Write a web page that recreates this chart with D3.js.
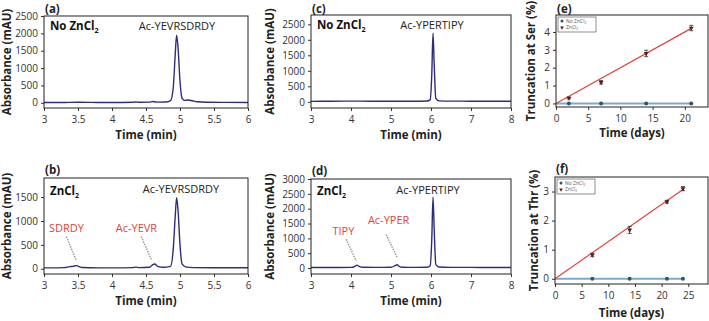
<!DOCTYPE html>
<html lang="en">
<head>
<meta charset="UTF-8">
<title>ZnCl2 truncation chromatograms</title>
<script src="https://d3js.org/d3.v7.min.js"></script>
<style>
  body { margin: 0; background: #fff; }
  svg text { font-family: "Open Sans", "Noto Sans", sans-serif; }
</style>
</head>
<body>
<div id="chart"></div>
<script>
// ---- chromatogram traces: time (min) / absorbance (mAU) ----
var timeA = [3.0, 3.3, 3.5, 3.8, 4.0, 4.3, 4.35, 4.4, 4.55, 4.6, 4.65, 4.8, 4.86, 4.9, 4.93, 4.95, 4.97, 5.0, 5.03, 5.07, 5.12, 5.18, 5.25, 5.4, 5.7, 6.0];
var absA  = [8, 10, 14, 10, 8, 14, 24, 14, 18, 38, 20, 22, 60, 420, 1400, 1950, 1620, 620, 130, 70, 80, 60, 28, 15, 12, 10];

var timeB = [3.0, 3.3, 3.38, 3.43, 3.47, 3.5, 3.56, 3.8, 4.0, 4.3, 4.35, 4.4, 4.55, 4.6, 4.63, 4.67, 4.75, 4.86, 4.9, 4.93, 4.95, 4.97, 5.0, 5.03, 5.08, 5.2, 5.5, 6.0];
var absB  = [18, 24, 45, 50, 65, 55, 25, 18, 18, 24, 34, 24, 30, 88, 100, 50, 30, 50, 400, 1100, 1485, 1250, 500, 100, 40, 24, 20, 20];

var timeC = [3.0, 3.5, 4.0, 4.5, 5.0, 5.5, 5.9, 5.98, 6.02, 6.05, 6.08, 6.12, 6.2, 6.5, 7.0, 7.5, 8.0];
var absC  = [15, 18, 22, 20, 20, 18, 24, 70, 900, 2210, 1200, 110, 30, 22, 20, 20, 20];

var timeD = [3.0, 3.5, 4.0, 4.1, 4.15, 4.2, 4.3, 4.6, 5.0, 5.1, 5.15, 5.2, 5.3, 5.6, 5.9, 5.98, 6.02, 6.05, 6.08, 6.12, 6.2, 6.5, 7.0, 7.5, 8.0];
var absD  = [18, 20, 22, 60, 100, 60, 25, 22, 28, 80, 110, 60, 28, 22, 26, 80, 1000, 2390, 1300, 120, 35, 24, 22, 20, 20];

// ---- truncation time courses ----
var daysE   = [2, 7, 14, 21];
var noZnE   = [0, 0, 0, 0];
var znE     = [0.3, 1.18, 2.8, 4.22];
var errE    = [0.05, 0.1, 0.18, 0.15];
var fitDaysE = [0, 21];
var fitE     = [0, 4.2];

var daysF   = [7, 14, 21, 24];
var noZnF   = [0, 0, 0, 0];
var znF     = [0.82, 1.68, 2.65, 3.1];
var errF    = [0.06, 0.12, 0.05, 0.07];
var fitDaysF = [0, 24];
var fitF     = [0, 3.07];

// tick labels
var ticksMinAB = [3, 3.5, 4, 4.5, 5, 5.5, 6];
var ticksMinCD = [3, 4, 5, 6, 7, 8];
var ticksAbsA = [0, 500, 1000, 1500, 2000, 2500];
var ticksAbsB = [0, 500, 1000, 1500];
var ticksAbsC = [0, 500, 1000, 1500, 2000, 2500];
var ticksAbsD = [0, 500, 1000, 1500, 2000, 2500, 3000];
var ticksDaysE = [0, 5, 10, 15, 20];
var ticksDaysF = [0, 5, 10, 15, 20, 25];
var ticksPctE = [0, 1, 2, 3, 4];
var ticksPctF = [0, 1, 2, 3];

var W = 709, H = 321;
var svg = d3.select("#chart").append("svg").attr("width", W).attr("height", H);

var traceColor = "#2f2c7c";
var red = "#e3443a";

// text with a subscript 2 (ZnCl2)
function zncl(sel, prefix, size) {
  sel.append("tspan").text(prefix + "ZnCl");
  sel.append("tspan").attr("font-size", size * 0.62).attr("dy", size * 0.22).text("2");
}

function axes(p, x, y, xlab, ylab) {
  var gx = svg.append("g").attr("transform", "translate(0," + (p.y + p.h) + ")")
    .call(d3.axisBottom(x).tickValues(p.xt).tickSize(3).tickPadding(3).tickFormat(d3.format("")));
  var gy = svg.append("g").attr("transform", "translate(" + p.x + ",0)")
    .call(d3.axisLeft(y).tickValues(p.yt).tickSize(3).tickPadding(3).tickFormat(d3.format("")));
  [gx, gy].forEach(function(g) {
    g.select(".domain").remove();
    g.selectAll("text").attr("font-size", 10).attr("fill", "#333")
      .attr("font-family", "'Open Sans', sans-serif");
    g.selectAll("line").attr("stroke", "#333");
  });
  gx.selectAll("text").attr("dy", "0.85em").attr("y", 6);
  svg.append("text").attr("x", p.x + p.w / 2).attr("y", p.y + p.h + (p.xlabOff || 31))
    .attr("text-anchor", "middle").attr("font-size", 11.5).attr("font-weight", "bold")
    .attr("fill", "#222").text(xlab);
  svg.append("text").attr("transform", "translate(" + p.ylabX + "," + (p.y + p.h / 2) + ") rotate(-90)")
    .attr("text-anchor", "middle").attr("font-size", 11.5).attr("font-weight", "bold")
    .attr("fill", "#222").text(ylab);
  svg.append("text").attr("x", p.x + 1).attr("y", p.tagY)
    .attr("font-size", 11.5).attr("font-weight", "bold").attr("fill", "#222").text(p.tag);
}

function box(p) {
  svg.append("rect").attr("x", p.x).attr("y", p.y).attr("width", p.w).attr("height", p.h)
    .attr("fill", "none").attr("stroke", "#222").attr("stroke-width", 1);
}

function chrom(p) {
  var x = d3.scaleLinear().domain(p.xd).range([p.x, p.x + p.w]);
  var y = d3.scaleLinear().domain(p.yd).range([p.y + p.h, p.y]);
  axes(p, x, y, "Time (min)", "Absorbance (mAU)");

  var line = d3.line().x(function(d) { return x(d[0]); }).y(function(d) { return y(d[1]); })
    .curve(d3.curveMonotoneX);
  svg.append("path").datum(d3.zip(p.t, p.v)).attr("d", line)
    .attr("fill", "none").attr("stroke", traceColor).attr("stroke-width", 1.4);

  // condition label
  var c = svg.append("text").attr("x", p.x + 6).attr("y", p.y + p.condY)
    .attr("font-size", 11.5).attr("font-weight", "bold").attr("fill", "#111");
  zncl(c, p.noZn ? "No " : "", 11.5);
  // main peak label
  svg.append("text").attr("x", p.peakX).attr("y", p.y + p.peakY).attr("text-anchor", "middle")
    .attr("font-size", 11).attr("fill", "#222").text(p.peak);

  (p.frags || []).forEach(function(f) {
    svg.append("text").attr("x", x(f.tx)).attr("y", y(f.ty)).attr("text-anchor", "middle")
      .attr("font-size", 11).attr("fill", red).text(f.name);
    svg.append("line").attr("x1", x(f.l[0])).attr("y1", y(f.l[1]))
      .attr("x2", x(f.l[2])).attr("y2", y(f.l[3]))
      .attr("stroke", "#8a8a8a").attr("stroke-width", 1.4).attr("stroke-dasharray", "1.3,1.3");
  });
  box(p);
}

function trunc(p) {
  var x = d3.scaleLinear().domain(p.xd).range([p.x, p.x + p.w]);
  var y = d3.scaleLinear().domain(p.yd).range([p.y + p.h, p.y]);
  axes(p, x, y, "Time (days)", p.ylab);

  // no ZnCl2 line
  svg.append("line").attr("x1", x(0)).attr("y1", y(0)).attr("x2", x(p.days[p.days.length - 1])).attr("y2", y(0))
    .attr("stroke", "#7eaacb").attr("stroke-width", 2);
  // ZnCl2 fit
  svg.append("line").attr("x1", x(p.fitX[0])).attr("y1", y(p.fitY[0]))
    .attr("x2", x(p.fitX[1])).attr("y2", y(p.fitY[1]))
    .attr("stroke", red).attr("stroke-width", 1.2);

  var g = svg.append("g");
  g.selectAll(".nz").data(d3.zip(p.days, p.noZn)).join("circle")
    .attr("cx", function(d) { return x(d[0]); }).attr("cy", function(d) { return y(d[1]); })
    .attr("r", 2).attr("fill", "#2e5666");

  var zn = d3.zip(p.days, p.zn, p.err);
  g.selectAll(".eb").data(zn).join("path")
    .attr("d", function(d) {
      var cx = x(d[0]), t = y(d[1] + d[2]), b = y(d[1] - d[2]);
      return "M" + (cx - 2) + "," + t + "H" + (cx + 2) + "M" + cx + "," + t + "V" + b +
        "M" + (cx - 2) + "," + b + "H" + (cx + 2);
    })
    .attr("stroke", "#333").attr("stroke-width", 0.8).attr("fill", "none");
  g.selectAll(".tri").data(zn).join("path")
    .attr("d", d3.symbol().type(d3.symbolTriangle).size(10))
    .attr("transform", function(d) { return "translate(" + x(d[0]) + "," + y(d[1]) + ") rotate(180)"; })
    .attr("fill", "#5a1d1d");

  // legend
  var lx = p.x + 2, ly = p.y + 2;
  svg.append("rect").attr("x", lx).attr("y", ly).attr("width", 38).attr("height", 15)
    .attr("fill", "#fff").attr("stroke", "#444").attr("stroke-width", 0.6);
  svg.append("circle").attr("cx", lx + 4).attr("cy", ly + 4).attr("r", 1.5).attr("fill", "#2e5666");
  svg.append("path").attr("d", d3.symbol().type(d3.symbolTriangle).size(6))
    .attr("transform", "translate(" + (lx + 4) + "," + (ly + 10.5) + ") rotate(180)").attr("fill", "#5a1d1d");
  var t1 = svg.append("text").attr("x", lx + 8).attr("y", ly + 5.8).attr("font-size", 5).attr("fill", "#555");
  zncl(t1, "No ", 5);
  var t2 = svg.append("text").attr("x", lx + 8).attr("y", ly + 12.3).attr("font-size", 5).attr("fill", "#555");
  zncl(t2, "", 5);
  box(p);
}

chrom({ tag: "(a)", tagY: 12.5, x: 44, y: 16, w: 204, h: 92, xd: [3, 6], yd: [-150, 2500],
  xt: ticksMinAB, yt: ticksAbsA, t: timeA, v: absA, ylabX: 11, noZn: true,
  condY: 14, peak: "Ac-YEVRSDRDY", peakX: 177, peakY: 14 });

chrom({ tag: "(b)", tagY: 174, x: 44, y: 178, w: 204, h: 96, xd: [3, 6], yd: [-110, 1900],
  xt: ticksMinAB, yt: ticksAbsB, t: timeB, v: absB, ylabX: 11, noZn: false,
  condY: 17, peak: "Ac-YEVRSDRDY", peakX: 181, peakY: 15,
  frags: [
    { name: "SDRDY", tx: 3.33, ty: 770, l: [3.33, 670, 3.47, 190] },
    { name: "Ac-YEVR", tx: 4.36, ty: 770, l: [4.43, 670, 4.58, 190] }
  ] });

chrom({ tag: "(c)", tagY: 12.5, x: 311, y: 15, w: 200, h: 93, xd: [3, 8], yd: [-200, 2800],
  xt: ticksMinCD, yt: ticksAbsC, t: timeC, v: absC, ylabX: 274, noZn: true,
  condY: 14, peak: "Ac-YPERTIPY", peakX: 432, peakY: 14 });

chrom({ tag: "(d)", tagY: 175, x: 311, y: 179, w: 200, h: 95, xd: [3, 8], yd: [-200, 3000],
  xt: ticksMinCD, yt: ticksAbsD, t: timeD, v: absD, ylabX: 274, noZn: false,
  condY: 16, peak: "Ac-YPERTIPY", peakX: 428, peakY: 15,
  frags: [
    { name: "TIPY", tx: 3.81, ty: 1120, l: [3.88, 970, 4.13, 240] },
    { name: "Ac-YPER", tx: 4.94, ty: 1480, l: [4.88, 1120, 5.15, 370] }
  ] });

trunc({ tag: "(e)", tagY: 12.5, x: 556, y: 15, w: 152, h: 92, xd: [0, 23.6], yd: [-0.2, 4.95],
  xt: ticksDaysE, yt: ticksPctE, ylab: "Truncation at Ser (%)", ylabX: 535,
  xlabOff: 30, days: daysE, noZn: noZnE, zn: znE, err: errE, fitX: fitDaysE, fitY: fitE });

trunc({ tag: "(f)", tagY: 173, x: 555, y: 177, w: 153, h: 107, xd: [0, 28.7], yd: [-0.18, 3.5],
  xt: ticksDaysF, yt: ticksPctF, ylab: "Truncation at Thr (%)", ylabX: 538,
  xlabOff: 33, days: daysF, noZn: noZnF, zn: znF, err: errF, fitX: fitDaysF, fitY: fitF });
</script>
</body>
</html>
